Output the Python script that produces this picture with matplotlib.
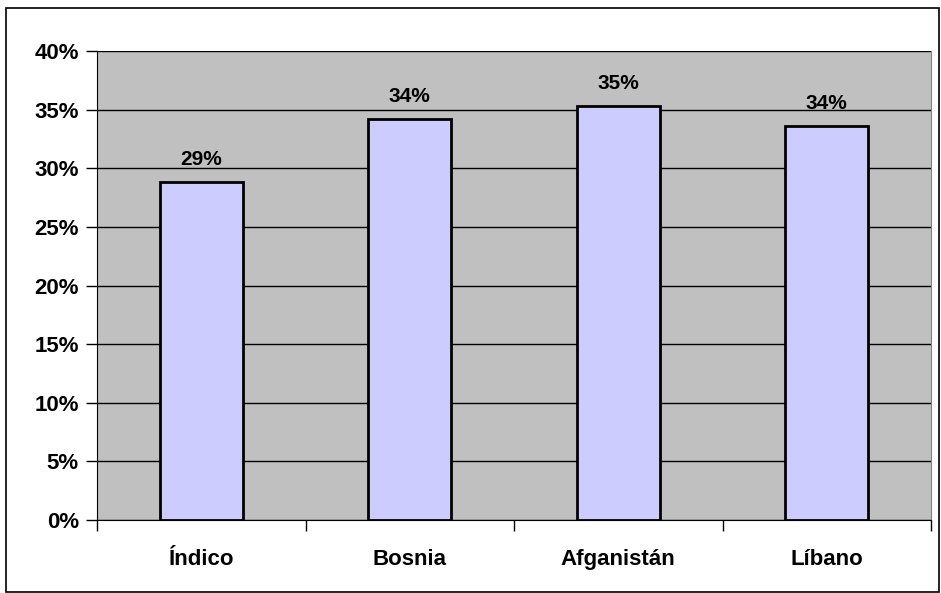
import matplotlib.pyplot as plt
from matplotlib.ticker import FuncFormatter, FixedLocator

# Data
categories = ["Índico", "Bosnia", "Afganistán", "Líbano"]
values = [28.8, 34.2, 35.3, 33.6]
labels = ["29%", "34%", "35%", "34%"]

plt.rcParams['font.family'] = ['Liberation Sans', 'DejaVu Sans']
plt.rcParams['font.weight'] = 'bold'

fig = plt.figure(figsize=(9.41, 5.93), dpi=100)
ax = fig.add_axes([97 / 941, 1 - 520 / 593, 834 / 941, 469 / 593])
ax.set_facecolor('#C0C0C0')

# figure border
fig.patches.append(plt.Rectangle((6 / 941, 1 / 593), 933 / 941, 584 / 593,
                                 transform=fig.transFigure, fill=False,
                                 edgecolor='black', linewidth=1.2))

x = list(range(len(categories)))
bars = ax.bar(x, values, width=0.4, color='#CCCCFF', edgecolor='black',
              linewidth=2, zorder=3)

for b, lab in zip(bars, labels):
    ax.annotate(lab, (b.get_x() + b.get_width() / 2, b.get_height()),
                xytext=(0, 9.5), textcoords='offset points',
                ha='center', va='bottom', fontsize=15, fontweight='bold')

ax.set_xlim(-0.5, len(categories) - 0.5)
ax.set_ylim(0, 40)
ax.set_yticks(range(0, 41, 5))
ax.yaxis.set_major_formatter(FuncFormatter(lambda v, p: f"{int(v)}%"))
ax.yaxis.grid(True, color='black', linewidth=1, zorder=1)
ax.set_axisbelow(True)

ax.set_xticks(x)
ax.set_xticklabels(categories)
ax.xaxis.set_minor_locator(FixedLocator([i - 0.5 for i in range(len(categories) + 1)]))
ax.tick_params(axis='x', which='major', length=0, pad=21, labelsize=16)
ax.tick_params(axis='x', which='minor', length=8, width=1, color='black', direction='out')
ax.tick_params(axis='y', length=8, width=1, direction='out', labelsize=16, pad=5)

ax.spines['top'].set_visible(False)
ax.spines['right'].set_color('#808080')
ax.spines['left'].set_color('black')
ax.spines['bottom'].set_color('black')

fig.savefig('out.png', dpi=100)
